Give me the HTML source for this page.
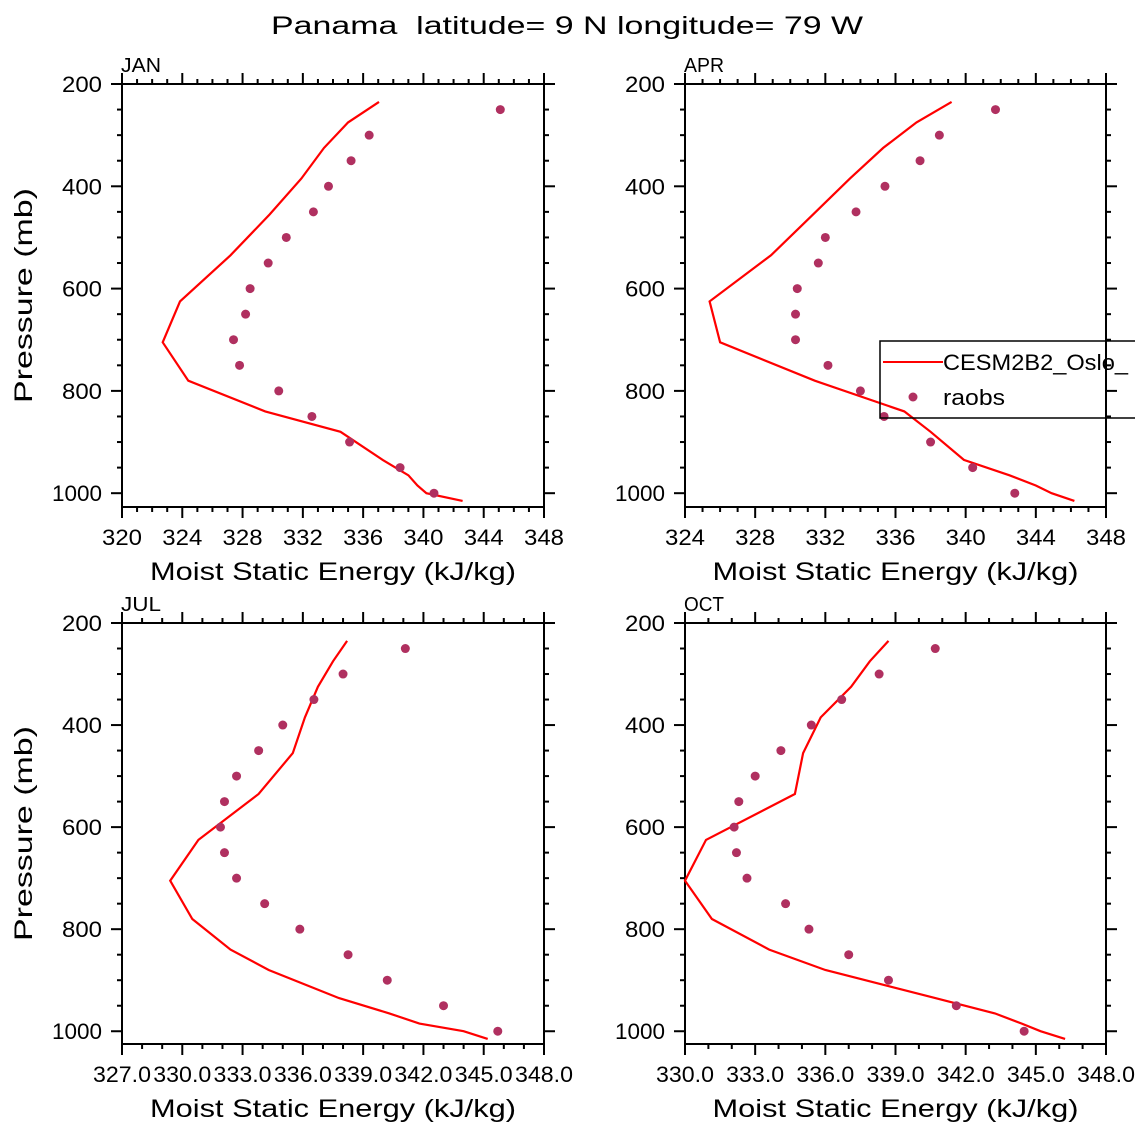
<!DOCTYPE html>
<html><head><meta charset="utf-8"><style>
body{margin:0;background:#fff;}
svg text{font-family:"Liberation Sans",sans-serif;fill:#000;}
</style></head><body>
<svg id="chart" width="1135" height="1135" xmlns="http://www.w3.org/2000/svg">
<text x="567" y="34" text-anchor="middle" font-size="25" textLength="592" lengthAdjust="spacingAndGlyphs" xml:space="preserve">Panama  latitude= 9 N longitude= 79 W</text>
</svg>
<script>
const modelLevels=[235,275,325,385,455,535,625,705,780,840,880,935,965,985,1000,1015];
const obsLevels=[250,300,350,400,450,500,550,600,650,700,750,800,850,900,950,1000];
const janModel=[337.05,335.0,333.4,331.9,329.8,327.2,323.85,322.7,324.4,329.5,334.5,337.3,339.0,339.6,340.2,342.6];
const janObs=[345.1,336.4,335.2,333.7,332.7,330.9,329.7,328.5,328.2,327.4,327.8,330.4,332.6,335.1,338.45,340.7];
const aprModel=[339.2,337.2,335.3,333.4,331.3,328.9,325.4,326.0,331.4,336.5,338.0,339.9,342.5,344.0,344.9,346.2];
const aprObs=[341.7,338.5,337.4,335.4,333.75,332.0,331.6,330.4,330.3,330.3,332.15,334.0,335.35,338.0,340.4,342.8];
const julModel=[338.2,337.5,336.75,336.1,335.5,333.8,330.8,329.4,330.5,332.4,334.3,337.8,340.3,341.8,344.0,345.2];
const julObs=[341.1,338.0,336.55,335.0,333.8,332.7,332.1,331.9,332.1,332.7,334.1,335.85,338.25,340.2,343.0,345.7];
const octModel=[338.7,337.9,337.1,335.8,335.05,334.7,330.9,330.0,331.15,333.6,336.0,340.7,343.25,344.4,345.2,346.25];
const octObs=[340.7,338.3,336.7,335.4,334.1,333.0,332.3,332.1,332.2,332.65,334.3,335.3,337.0,338.7,341.6,344.5];
const janTicks=[320,324,328,332,336,340,344,348];
const aprTicks=[324,328,332,336,340,344,348];
const julTicks=["327.0","330.0","333.0","336.0","339.0","342.0","345.0","348.0"];
const octTicks=["330.0","333.0","336.0","339.0","342.0","345.0","348.0"];
const pTicks=[200,400,600,800,1000];

const NS="http://www.w3.org/2000/svg";
const svg=document.getElementById('chart');
function mk(tag,attrs,parent){const e=document.createElementNS(NS,tag);for(const k in attrs)e.setAttribute(k,attrs[k]);(parent||svg).appendChild(e);return e;}

const panels=[
 {name:'jan',label:'JAN',x0:122,x1:544,y0:84,y1:507,xmin:320,xmax:348,pmax:1027,ticks:janTicks,model:janModel,obs:janObs,ylab:true},
 {name:'apr',label:'APR',x0:685,x1:1106,y0:84,y1:507,xmin:324,xmax:348,pmax:1027,ticks:aprTicks,model:aprModel,obs:aprObs,ylab:false},
 {name:'jul',label:'JUL',x0:122,x1:544,y0:623,y1:1044,xmin:327,xmax:348,pmax:1025,ticks:julTicks,model:julModel,obs:julObs,ylab:true},
 {name:'oct',label:'OCT',x0:685,x1:1106,y0:623,y1:1044,xmin:330,xmax:348,pmax:1025,ticks:octTicks,model:octModel,obs:octObs,ylab:false}
];
panels.forEach(p=>{
 const g=mk('g',{});
 
 
 const xs=v=>p.x0+(v-p.xmin)/(p.xmax-p.xmin)*(p.x1-p.x0);
 const ys=v=>p.y0+(v-200)/(p.pmax-200)*(p.y1-p.y0);
 const fr=mk('rect',{x:p.x0,y:p.y0,width:p.x1-p.x0,height:p.y1-p.y0,fill:'none',stroke:'#000','stroke-width':2},g);
 
 
 for(let v=p.xmin;v<=p.xmax;v++){
  const major=p.ticks.some(t=>Math.abs(+t-v)<1e-6);
  const L=major?11:5;const x=xs(v);
  mk('line',{x1:x,x2:x,y1:p.y1,y2:p.y1+L,stroke:'#000','stroke-width':2},g);
  mk('line',{x1:x,x2:x,y1:p.y0,y2:p.y0-L,stroke:'#000','stroke-width':2},g);
 }
 p.ticks.forEach(t=>{
  const s=String(t);
  const tx=mk('text',{x:xs(+t),y:p.y1+38,'text-anchor':'middle','font-size':22,textLength:(s.length===3?40:58),lengthAdjust:'spacingAndGlyphs'},g);
  tx.textContent=s;
  
  
 });
 for(let v=200;v<=1000;v+=50){
  const major=v%200===0;const L=major?11:5;const y=ys(v);
  mk('line',{x1:p.x0,x2:p.x0-L,y1:y,y2:y,stroke:'#000','stroke-width':2},g);
  mk('line',{x1:p.x1,x2:p.x1+L,y1:y,y2:y,stroke:'#000','stroke-width':2},g);
 }
 pTicks.forEach(t=>{
  const s=String(t);
  const tx=mk('text',{x:p.x0-20,y:ys(t)+8,'text-anchor':'end','font-size':22,textLength:(s.length===3?40:50),lengthAdjust:'spacingAndGlyphs'},g);
  tx.textContent=s;
  
  
 });
 const xl=mk('text',{x:(p.x0+p.x1)/2,y:p.y1+73,'text-anchor':'middle','font-size':25,textLength:366,lengthAdjust:'spacingAndGlyphs'},g);
 xl.textContent='Moist Static Energy (kJ/kg)';
 
 
 const pl=mk('text',{x:p.x0-1,y:p.y0-12,'font-size':20,textLength:40,lengthAdjust:'spacingAndGlyphs'},g);
 pl.textContent=p.label;
 
 
 if(p.ylab){
  const cy=(p.y0+p.y1)/2;
  const yl=mk('text',{x:32,y:cy,'text-anchor':'middle','font-size':25,textLength:215,lengthAdjust:'spacingAndGlyphs',transform:'rotate(-90 32 '+cy+')'},g);
  yl.textContent='Pressure (mb)';
  
  
 }
 const pts=p.model.map((v,i)=>xs(v).toFixed(1)+','+ys(modelLevels[i]).toFixed(1)).join(' ');
 const ln=mk('polyline',{points:pts,fill:'none',stroke:'#ff0000','stroke-width':2.2},g);
 
 
 p.obs.forEach((v,i)=>{
  const c=mk('circle',{cx:xs(v),cy:ys(obsLevels[i]),r:4.5,fill:'#b03060'},g);
  
  
 });
});
const lg=mk('g',{});


mk('rect',{x:880,y:341,width:300,height:77,fill:'none',stroke:'#000','stroke-width':1.5},lg);
const l1=mk('line',{x1:883,x2:943,y1:362,y2:362,stroke:'#ff0000','stroke-width':2},lg);


const t1=mk('text',{x:943,y:370,'font-size':22,textLength:185,lengthAdjust:'spacingAndGlyphs'},lg);t1.textContent='CESM2B2_Oslo_';


const c2=mk('circle',{cx:913,cy:397,r:4.5,fill:'#b03060'},lg);


const t2=mk('text',{x:943,y:405,'font-size':22,textLength:62,lengthAdjust:'spacingAndGlyphs'},lg);t2.textContent='raobs';


</script>
</body></html>
